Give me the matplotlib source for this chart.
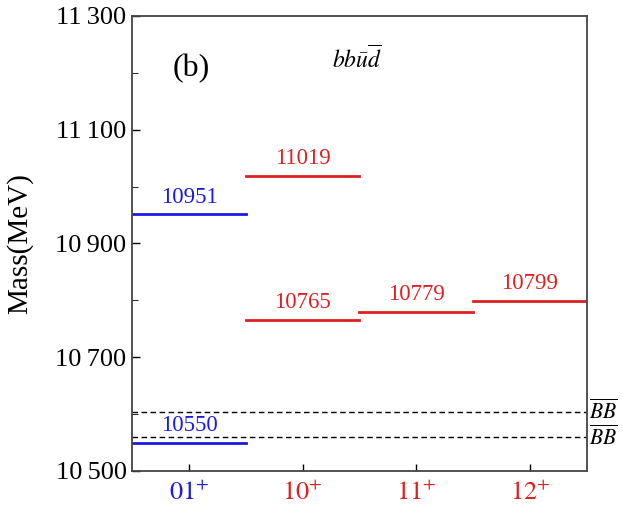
import matplotlib.pyplot as plt
from matplotlib.ticker import FixedLocator, MultipleLocator, FuncFormatter

plt.rcParams['font.family'] = ['Liberation Serif', 'DejaVu Serif']
plt.rcParams['mathtext.fontset'] = 'stix'

# states per J^P channel
channels = ['$01^{+}$', '$10^{+}$', '$11^{+}$', '$12^{+}$']
channel_colors = ['#1a1ae6', '#e02020', '#e02020', '#e02020']
col_01 = [10951, 10550]
col_10 = [11019, 10765]
col_11 = [10779]
col_12 = [10799]
masses = [col_01, col_10, col_11, col_12]

# thresholds
thresholds = [10604, 10559]
threshold_labels = [r'$\overline{BB}$', r'$\overline{BB}$']

fig = plt.figure(figsize=(6.23, 5.09), dpi=100)
ax = fig.add_axes([0.212, 0.0747, 0.730, 0.894])

for i, col in enumerate(masses):
    for m in col:
        ax.plot([i - 0.5, i + 0.5], [m, m], color=channel_colors[i], lw=2)
        ax.text(i, m + 12, str(m), color=channel_colors[i], ha='center',
                va='bottom', fontsize=16.5)

for t, lab in zip(thresholds, threshold_labels):
    ax.axhline(t, color='black', ls=(0, (4, 2.5)), lw=1)
    ax.text(3.52, t, lab, fontsize=15.5, va='center', ha='left')

ax.text(0.02, 11208, '(b)', fontsize=23, ha='center', va='center')
ax.text(1.48, 11225, r'$bb\bar{u}\overline{d}$', fontsize=17, ha='center', va='center')

ax.set_xlim(-0.5, 3.5)
ax.set_ylim(10500, 11300)
ax.set_xticks(range(4))
ax.set_xticklabels(channels, fontsize=19)
for lbl, c in zip(ax.get_xticklabels(), channel_colors):
    lbl.set_color(c)

ax.yaxis.set_major_locator(FixedLocator([10500, 10700, 10900, 11100, 11300]))
ax.yaxis.set_minor_locator(MultipleLocator(100))
ax.yaxis.set_major_formatter(FuncFormatter(
    lambda v, p: f'{int(v) // 1000}\u2009{int(v) % 1000:03d}'))
ax.tick_params(axis='y', labelsize=19, direction='in', length=6, width=1, pad=4)
ax.tick_params(axis='y', which='minor', direction='in', length=4)
ax.tick_params(axis='x', direction='in', length=5, width=1, pad=7)
ax.set_ylabel('Mass(MeV)', fontsize=21, labelpad=16)
for s in ax.spines.values():
    s.set_color('#444444')
    s.set_linewidth(1.3)

fig.savefig('out.png', dpi=100)
